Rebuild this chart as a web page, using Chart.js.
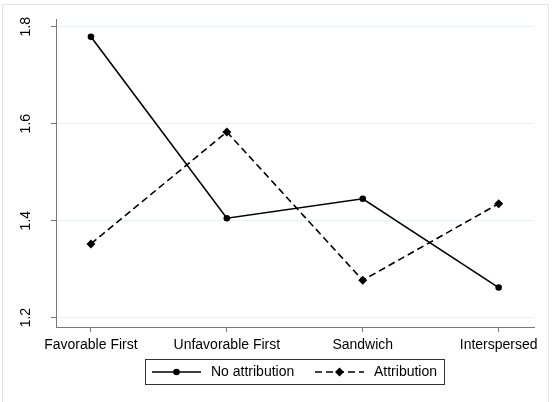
<!DOCTYPE html>
<html>
<head>
<meta charset="utf-8">
<script src="https://cdn.jsdelivr.net/npm/chart.js@4.4.0/dist/chart.umd.min.js"></script>
<style>
  html, body { margin: 0; padding: 0; background: #fff; }
</style>
</head>
<body>
<canvas id="chart" width="555" height="402"></canvas>
<script>
// Data
const categories = ['Favorable First', 'Unfavorable First', 'Sandwich', 'Interspersed'];
const noAttribution = [1.779, 1.405, 1.445, 1.262];
const attribution = [1.352, 1.583, 1.277, 1.435];
const yTicks = [1.2, 1.4, 1.6, 1.8];
const seriesNames = ['No attribution', 'Attribution'];

const FONT = 'Liberation Sans, Arial, sans-serif';

// light outer frame like the Stata graph region
const framePlugin = {
    id: 'frame',
    beforeDraw(chart) {
        const ctx = chart.ctx;
        ctx.save();
        ctx.fillStyle = '#fff';
        ctx.fillRect(0, 0, chart.width, chart.height);
        ctx.strokeStyle = '#e4e4e4';
        ctx.lineWidth = 1;
        ctx.strokeRect(2.5, 4.5, 546, 410);
        ctx.restore();
    }
};

// boxed legend below the axis: line sample with marker, then label
const legendPlugin = {
    id: 'boxLegend',
    afterDraw(chart) {
        const ctx = chart.ctx;
        const boxX = 145, boxY = 359, boxW = 299, boxH = 25;
        const midY = boxY + boxH / 2 + 0.5;
        const starts = [152, 315];
        ctx.save();
        ctx.strokeStyle = '#333';
        ctx.lineWidth = 1;
        ctx.strokeRect(boxX + 0.5, boxY + 0.5, boxW, boxH);

        chart.data.datasets.forEach((ds, i) => {
            const x0 = starts[i];
            const x1 = x0 + 49;
            const cx = (x0 + x1) / 2;
            ctx.strokeStyle = ds.borderColor;
            ctx.lineWidth = ds.borderWidth;
            ctx.setLineDash(ds.borderDash || []);
            ctx.beginPath();
            ctx.moveTo(x0, midY);
            ctx.lineTo(x1, midY);
            ctx.stroke();
            ctx.setLineDash([]);
            ctx.fillStyle = ds.pointBackgroundColor;
            ctx.beginPath();
            if (ds.pointStyle === 'rectRot') {
                const r = ds.pointRadius;
                ctx.moveTo(cx, midY - r);
                ctx.lineTo(cx + r, midY);
                ctx.lineTo(cx, midY + r);
                ctx.lineTo(cx - r, midY);
                ctx.closePath();
            } else {
                ctx.arc(cx, midY, ds.pointRadius, 0, Math.PI * 2);
            }
            ctx.fill();

            ctx.fillStyle = '#000';
            ctx.font = '14px ' + FONT;
            ctx.textBaseline = 'middle';
            ctx.textAlign = 'left';
            ctx.fillText(ds.label, x1 + 10, midY);
        });
        ctx.restore();
    }
};

const toPoints = arr => arr.map((v, i) => ({ x: i, y: v }));

const ctx = document.getElementById('chart').getContext('2d');
new Chart(ctx, {
    type: 'line',
    data: {
        datasets: [{
            label: seriesNames[0],
            data: toPoints(noAttribution),
            borderColor: '#000',
            borderWidth: 1.6,
            pointStyle: 'circle',
            pointRadius: 3.3,
            pointBackgroundColor: '#000',
            pointBorderColor: '#000',
            pointBorderWidth: 0,
            tension: 0
        }, {
            label: seriesNames[1],
            data: toPoints(attribution),
            borderColor: '#000',
            borderWidth: 1.6,
            borderDash: [7, 4],
            pointStyle: 'rectRot',
            pointRadius: 4.5,
            pointBackgroundColor: '#000',
            pointBorderColor: '#000',
            pointBorderWidth: 0,
            tension: 0
        }]
    },
    options: {
        responsive: false,
        animation: false,
        layout: { padding: { left: 0, top: 19, right: 21, bottom: 40 } },
        plugins: {
            legend: { display: false },
            tooltip: { enabled: false }
        },
        scales: {
            x: {
                type: 'linear',
                min: -0.257,
                max: 3.26,
                afterBuildTicks: scale => {
                    scale.ticks = categories.map((_, i) => ({ value: i }));
                },
                afterFit: scale => {
                    scale.height = 35;
                    scale.paddingLeft = 0;
                    scale.paddingRight = 0;
                },
                ticks: {
                    callback: v => categories[v],
                    color: '#000',
                    font: { family: FONT, size: 14 },
                    padding: 5,
                    autoSkip: false,
                    maxRotation: 0
                },
                grid: {
                    drawOnChartArea: false,
                    tickLength: 5,
                    tickColor: '#777'
                },
                border: { color: '#777', width: 1 }
            },
            y: {
                min: 1.1807,
                max: 1.8158,
                afterBuildTicks: scale => {
                    scale.ticks = yTicks.map(v => ({ value: v }));
                },
                afterFit: scale => {
                    scale.width = 56;
                    scale.paddingTop = 0;
                    scale.paddingBottom = 0;
                },
                ticks: {
                    callback: v => v.toFixed(1),
                    color: '#000',
                    font: { family: FONT, size: 14 },
                    minRotation: 90,
                    maxRotation: 90,
                    crossAlign: 'center',
                    padding: 15
                },
                grid: {
                    color: '#eaeff0',
                    tickLength: 5,
                    tickColor: '#777'
                },
                border: { color: '#777', width: 1 }
            }
        }
    },
    plugins: [framePlugin, legendPlugin]
});
</script>
</body>
</html>
